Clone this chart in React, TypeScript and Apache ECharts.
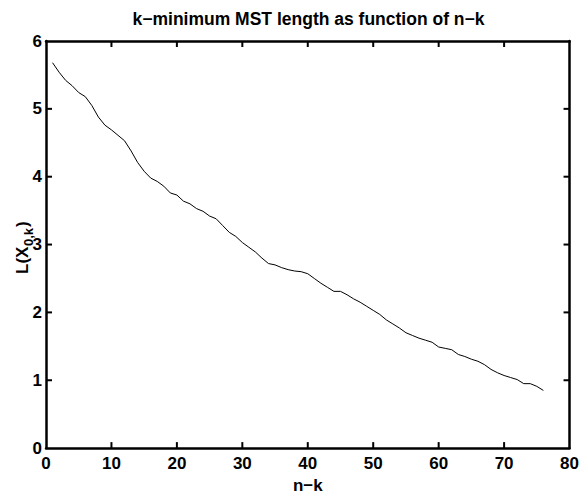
import React, { useEffect, useRef } from "react";
import * as echarts from "echarts";

const nMinusK: number[] = [
  1, 2, 3, 4, 5, 6, 7, 8, 9, 10, 11, 12, 13, 14, 15, 16, 17, 18, 19, 20,
  21, 22, 23, 24, 25, 26, 27, 28, 29, 30, 31, 32, 33, 34, 35, 36, 37, 38, 39, 40,
  41, 42, 43, 44, 45, 46, 47, 48, 49, 50, 51, 52, 53, 54, 55, 56, 57, 58, 59, 60,
  61, 62, 63, 64, 65, 66, 67, 68, 69, 70, 71, 72, 73, 74, 75, 76,
];

const mstLength: number[] = [
  5.68, 5.54, 5.42, 5.34, 5.24, 5.18, 5.05, 4.88, 4.76, 4.69,
  4.61, 4.53, 4.38, 4.21, 4.08, 3.98, 3.93, 3.86, 3.76, 3.73,
  3.64, 3.60, 3.53, 3.49, 3.42, 3.38, 3.28, 3.18, 3.12, 3.03,
  2.96, 2.89, 2.80, 2.72, 2.70, 2.66, 2.63, 2.61, 2.60, 2.57,
  2.50, 2.43, 2.37, 2.31, 2.31, 2.26, 2.20, 2.15, 2.09, 2.03,
  1.97, 1.89, 1.83, 1.77, 1.70, 1.66, 1.62, 1.59, 1.56, 1.49,
  1.47, 1.45, 1.38, 1.35, 1.31, 1.28, 1.23, 1.16, 1.11, 1.07,
  1.04, 1.01, 0.95, 0.95, 0.91, 0.85,
];

const xTickValues: number[] = [10, 20, 30, 40, 50, 60, 70];
const yTickValues: number[] = [1, 2, 3, 4, 5];

const titleText = "k−minimum MST length as function of n−k";
const xAxisName = "n−k";
const yLabelMain = "L(X";
const yLabelSub = "0,k";
const yLabelEnd = ")";

const FONT = "'Liberation Sans', Arial, Helvetica, sans-serif";
const X_MIN = 0;
const X_MAX = 80;
const Y_MIN = 0;
const Y_MAX = 6;

export default function App() {
  const ref = useRef<HTMLDivElement>(null);

  useEffect(() => {
    if (!ref.current) return;
    const chart = echarts.init(ref.current, undefined, { renderer: "svg" });

    const axisLine = () => ({ show: true, onZero: false, lineStyle: { color: "#000", width: 2.5 } });
    const axisLabel = { color: "#000", fontSize: 17, fontWeight: "bold" as const, fontFamily: FONT };

    const xTickData = xTickValues.flatMap((v) => [
      [v, Y_MIN, 0, -1],
      [v, Y_MAX, 0, 1],
    ]);
    const yTickData = yTickValues.flatMap((v) => [
      [X_MIN, v, 1, 0],
      [X_MAX, v, -1, 0],
    ]);
    const tickData = [...xTickData, ...yTickData];
    const TICK_LEN = 6;

    chart.setOption({
      animation: false,
      backgroundColor: "#fff",
      grid: { left: 46, right: 11, top: 41, bottom: 45, containLabel: false },
      xAxis: [
        {
          type: "value",
          min: X_MIN,
          max: X_MAX,
          interval: 10,
          position: "bottom",
          axisLine: axisLine(),
          axisTick: { show: false },
          axisLabel: { ...axisLabel, margin: 7 },
          splitLine: { show: false },
          name: xAxisName,
          nameLocation: "middle",
          nameGap: 26,
          nameTextStyle: { color: "#000", fontSize: 17, fontWeight: "bold", fontFamily: FONT },
        },
        {
          type: "value",
          min: X_MIN,
          max: X_MAX,
          interval: 10,
          position: "top",
          axisLine: axisLine(),
          axisTick: { show: false },
          axisLabel: { show: false },
          splitLine: { show: false },
        },
      ],
      yAxis: [
        {
          type: "value",
          min: Y_MIN,
          max: Y_MAX,
          interval: 1,
          position: "left",
          axisLine: axisLine(),
          axisTick: { show: false },
          axisLabel: { ...axisLabel, margin: 4 },
          splitLine: { show: false },
        },
        {
          type: "value",
          min: Y_MIN,
          max: Y_MAX,
          interval: 1,
          position: "right",
          axisLine: axisLine(),
          axisTick: { show: false },
          axisLabel: { show: false },
          splitLine: { show: false },
        },
      ],
      series: [
        {
          type: "line",
          xAxisIndex: 0,
          yAxisIndex: 0,
          data: nMinusK.map((n, i) => [n, mstLength[i]]),
          showSymbol: false,
          symbol: "none",
          lineStyle: { color: "#000", width: 1 },
        },
        {
          type: "custom",
          xAxisIndex: 0,
          yAxisIndex: 0,
          silent: true,
          clip: false,
          dimensions: ["x", "y", "dx", "dy"],
          encode: { x: 0, y: 1 },
          data: tickData,
          renderItem: (params: any, api: any) => {
            const p = api.coord([api.value(0), api.value(1)]);
            const dx = Number(api.value(2));
            const dy = Number(api.value(3));
            return {
              type: "line",
              shape: {
                x1: p[0],
                y1: p[1],
                x2: p[0] + dx * TICK_LEN,
                y2: p[1] + dy * TICK_LEN,
              },
              style: { stroke: "#000", lineWidth: 2 },
            };
          },
        },
      ],
      graphic: [
        {
          type: "text",
          x: 308.5,
          y: 19,
          style: {
            text: titleText,
            fill: "#000",
            font: `bold 17.5px ${FONT}`,
            textAlign: "center",
            textVerticalAlign: "middle",
          },
        },
        {
          type: "group",
          x: 22,
          y: 274,
          rotation: Math.PI / 2,
          children: [
            {
              type: "text",
              x: 0,
              y: 0,
              style: {
                text: yLabelMain,
                fill: "#000",
                font: `bold 17px ${FONT}`,
                textAlign: "left",
                textVerticalAlign: "middle",
              },
            },
            {
              type: "text",
              x: 28,
              y: 6,
              style: {
                text: yLabelSub,
                fill: "#000",
                font: `bold 13px ${FONT}`,
                textAlign: "left",
                textVerticalAlign: "middle",
              },
            },
            {
              type: "text",
              x: 47,
              y: 0,
              style: {
                text: yLabelEnd,
                fill: "#000",
                font: `bold 17px ${FONT}`,
                textAlign: "left",
                textVerticalAlign: "middle",
              },
            },
          ],
        },
      ],
    });

    return () => chart.dispose();
  }, []);

  return (
    <div
      ref={ref}
      style={{ position: "absolute", left: 0, top: 0, width: 582, height: 499, background: "#fff" }}
    />
  );
}
